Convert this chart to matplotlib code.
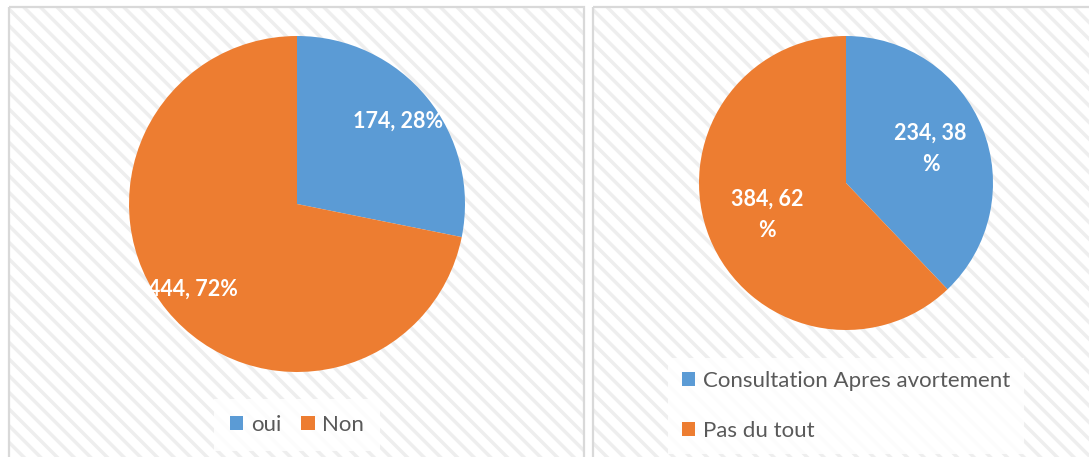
import matplotlib
matplotlib.use("Agg")
import matplotlib.pyplot as plt
from matplotlib.patches import Rectangle
import numpy as np

# data
left_labels = ["oui", "Non"]
left_values = [174, 444]
left_pcts = ["28%", "72%"]
right_labels = ["Consultation Apres avortement", "Pas du tout"]
right_values = [234, 384]
right_pcts = ["38\n%", "62\n%"]

BLUE = "#5b9bd5"
ORANGE = "#ed7d31"
TXT = "#595959"
plt.rcParams["font.family"] = ["Lato", "DejaVu Sans"]
plt.rcParams["hatch.linewidth"] = 2.5

W, H = 1089, 457
fig = plt.figure(figsize=(W / 100, H / 100), dpi=100)
fig.patch.set_facecolor("white")

def px(x0, y0, w, h):
    return [x0 / W, 1 - (y0 + h) / H, w / W, h / H]

bg = fig.add_axes([0, 0, 1, 1], zorder=-10)
bg.set_xlim(0, W)
bg.set_ylim(H, 0)
bg.set_axis_off()
for (x0, y0, x1, y1) in [(9, 7, 584, 470), (593, 7, 1100, 470)]:
    bg.add_patch(Rectangle((x0, y0), x1 - x0, y1 - y0, facecolor="white",
                           edgecolor="#eeeeee", linewidth=0, hatch="\\\\"))
    bg.add_patch(Rectangle((x0, y0), x1 - x0, y1 - y0, facecolor="none",
                           edgecolor="#d9d9d9", linewidth=1.6))

def draw_pie(rect, values, pcts, radfrac):
    ax = fig.add_axes(rect)
    ax.set_axis_off()
    wedges, _ = ax.pie(values, colors=[BLUE, ORANGE], startangle=90,
                       counterclock=False, radius=1,
                       wedgeprops=dict(linewidth=0))
    ax.set_xlim(-1, 1)
    ax.set_ylim(-1, 1)
    for w, v, p, rf in zip(wedges, values, pcts, radfrac):
        ang = np.deg2rad((w.theta1 + w.theta2) / 2)
        ax.text(rf * np.cos(ang), rf * np.sin(ang), f"{v}, {p}",
                ha="center", va="center", color="white",
                fontsize=15.5, fontweight="bold", linespacing=1.6)
    return wedges

wl = draw_pie(px(129, 36, 336, 336), left_values, left_pcts, [0.78, 0.80])
wr = draw_pie(px(699, 36, 294, 294), right_values, right_pcts, [0.62, 0.58])

leg1 = fig.legend(wl, left_labels, loc="center", bbox_to_anchor=(297 / W, 1 - 425 / H),
                  ncol=2, frameon=True, fontsize=16, handlelength=0.6, handleheight=0.6,
                  handletextpad=0.35, columnspacing=0.9, borderpad=0.7)
leg2 = fig.legend(wr, right_labels, loc="center", bbox_to_anchor=(846 / W, 1 - 406 / H),
                  ncol=1, frameon=True, fontsize=16, handlelength=0.6, handleheight=0.6,
                  handletextpad=0.35, labelspacing=1.35, borderpad=0.6)
for leg in (leg1, leg2):
    f = leg.get_frame()
    f.set_facecolor("white")
    f.set_alpha(0.85)
    f.set_edgecolor("none")
    f.set_boxstyle("square", pad=0)
    for t in leg.get_texts():
        t.set_color(TXT)

fig.savefig("out.png", dpi=100)
